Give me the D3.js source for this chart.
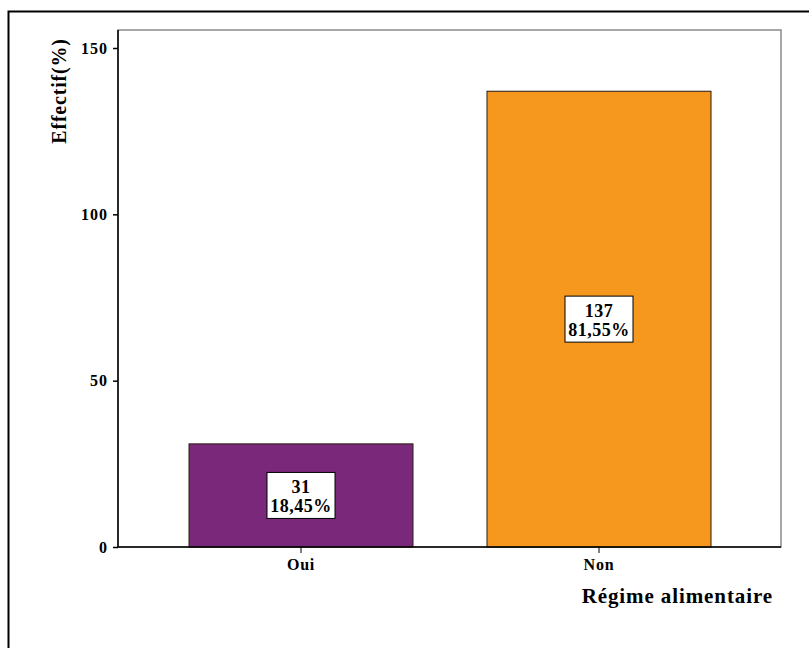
<!DOCTYPE html>
<html><head><meta charset="utf-8">
<script src="https://cdn.jsdelivr.net/npm/d3@7/dist/d3.min.js"></script>
<style>body{margin:0;background:#fff}svg{display:block}
svg text{font-family:"Liberation Serif","Times New Roman",serif !important;}</style>
</head><body>
<script>
const categories = ["Oui", "Non"];
const counts = [31, 137];
const percents = ["18,45%", "81,55%"];
const yTicks = [0, 50, 100, 150];
const colors = ["#7A287A", "#F7981E"];

const W = 809, H = 648;
const svg = d3.select("body").append("svg").attr("width", W).attr("height", H);

// outer frame
svg.append("rect").attr("x", 8.5).attr("y", 11.5).attr("width", W).attr("height", H)
  .attr("fill", "none").attr("stroke", "#000").attr("stroke-width", 2);

const L = 118, T = 30, R = 781, B = 547;
const y = d3.scaleLinear().domain([0, 150]).range([B, 48]);
const x = d3.scaleBand().domain(categories).range([189, 711]).paddingInner(74 / 298).paddingOuter(0);

// plot frame (top/right grey)
svg.append("rect").attr("x", L).attr("y", T).attr("width", R - L).attr("height", B - T)
  .attr("fill", "#fff").attr("stroke", "#8a8a8a").attr("stroke-width", 1.5);

// bars
svg.selectAll("rect.bar").data(counts).enter().append("rect")
  .attr("class", "bar")
  .attr("x", (d, i) => x(categories[i]))
  .attr("width", x.bandwidth())
  .attr("y", d => y(d))
  .attr("height", d => B - y(d))
  .attr("fill", (d, i) => colors[i])
  .attr("stroke", "#2a1a10").attr("stroke-width", 1);

// axes
const yAxis = d3.axisLeft(y).tickValues(yTicks).tickSize(5).tickPadding(5);
const gy = svg.append("g").attr("transform", `translate(${L},0)`).call(yAxis);
gy.select(".domain").attr("d", `M0,${T}V${B}`).attr("stroke", "#000").attr("stroke-width", 1.5);
gy.selectAll(".tick line").attr("stroke", "#000").attr("stroke-width", 1.5);
gy.selectAll(".tick text").attr("font-size", 16).attr("font-weight", "bold")
  .style("letter-spacing", "1px").attr("fill", "#000");

const xAxis = d3.axisBottom(x).tickSize(6).tickPadding(6);
const gx = svg.append("g").attr("transform", `translate(0,${B})`).call(xAxis);
gx.select(".domain").attr("d", `M${L},0H${R}`).attr("stroke", "#000").attr("stroke-width", 1.5);
gx.selectAll(".tick line").attr("stroke", "#000").attr("stroke-width", 1);
gx.selectAll(".tick text").attr("font-size", 16).attr("font-weight", "bold")
  .style("letter-spacing", "0.8px").attr("fill", "#000");

// data label boxes
counts.forEach((d, i) => {
  const cx = x(categories[i]) + x.bandwidth() / 2;
  const cy = (y(d) + B) / 2;
  const g = svg.append("g");
  g.append("rect").attr("x", cx - 34).attr("y", cy - 23).attr("width", 68).attr("height", 46)
    .attr("fill", "#fff").attr("stroke", "#000").attr("stroke-width", 1);
  g.append("text").attr("x", cx).attr("y", cy - 2).attr("text-anchor", "middle")
    .attr("font-size", 18).attr("font-weight", "bold").style("letter-spacing", "0.5px").text(d);
  g.append("text").attr("x", cx).attr("y", cy + 17).attr("text-anchor", "middle")
    .attr("font-size", 18).attr("font-weight", "bold").style("letter-spacing", "0.5px").text(percents[i]);
});

// axis titles
svg.append("text").attr("transform", "translate(66,91) rotate(-90)").attr("text-anchor", "middle")
  .attr("font-size", 20).attr("font-weight", "bold").style("letter-spacing", "0.8px").text("Effectif(%)");
svg.append("text").attr("x", 773).attr("y", 603).attr("text-anchor", "end")
  .attr("font-size", 21).attr("font-weight", "bold").style("letter-spacing", "0.9px").text("Régime alimentaire");
</script>
</body></html>
